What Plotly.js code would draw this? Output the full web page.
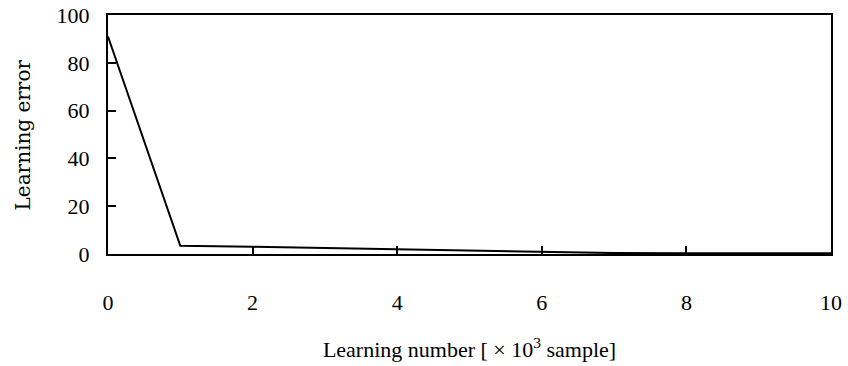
<!DOCTYPE html>
<html>
<head>
<meta charset="utf-8">
<script src="https://cdn.plot.ly/plotly-3.0.1.min.js"></script>
<style>html,body{margin:0;padding:0;background:#fff;}#chart{width:848px;height:366px;}</style>
</head>
<body>
<div id="chart"></div>
<script>
const learningNumber = [0, 1, 2, 3, 4, 5, 6, 7, 8, 9, 10];
const learningError = [91, 3.4, 3, 2.5, 1.8, 1.2, 0.8, 0.4, 0.3, 0.3, 0.3];
const xTicks = [0, 2, 4, 6, 8, 10];
const yTicks = [0, 20, 40, 60, 80, 100];

const font = {family: '"Liberation Serif", "Times New Roman", serif', size: 22, color: '#000'};
const yTitleFont = {family: '"DejaVu Serif", serif', size: 20, color: '#000'};

Plotly.newPlot('chart', [{
  x: learningNumber,
  y: learningError,
  type: 'scatter',
  mode: 'lines',
  line: {color: '#000', width: 2},
  hoverinfo: 'skip'
}], {
  width: 848, height: 366,
  margin: {l: 108, r: 17, t: 15, b: 112},
  paper_bgcolor: '#fff', plot_bgcolor: '#fff',
  showlegend: false,
  font: font,
  xaxis: {
    range: [0, 10], tickvals: xTicks, ticktext: xTicks.map(String),
    ticks: 'inside', ticklen: 8, tickwidth: 2, tickcolor: '#000',
    showline: true, linecolor: '#000', linewidth: 2, mirror: true,
    showgrid: false, zeroline: false,
    ticklabelstandoff: 28,
    tickfont: font,
    title: {text: 'Learning number [ × 10<sup>3</sup> sample]', font: font, standoff: 27}
  },
  yaxis: {
    range: [0, 100], tickvals: yTicks, ticktext: yTicks.map(String),
    ticks: 'inside', ticklen: 8, tickwidth: 2, tickcolor: '#000',
    showline: true, linecolor: '#000', linewidth: 2, mirror: true,
    showgrid: false, zeroline: false,
    ticklabelstandoff: 12,
    tickfont: font
  },
  annotations: [{
    text: 'Learning error', textangle: -90, showarrow: false,
    xref: 'paper', yref: 'paper', x: -0.1176, y: 0.5,
    xanchor: 'center', yanchor: 'middle', font: yTitleFont
  }]
}, {displayModeBar: false, staticPlot: true});
</script>
</body>
</html>
